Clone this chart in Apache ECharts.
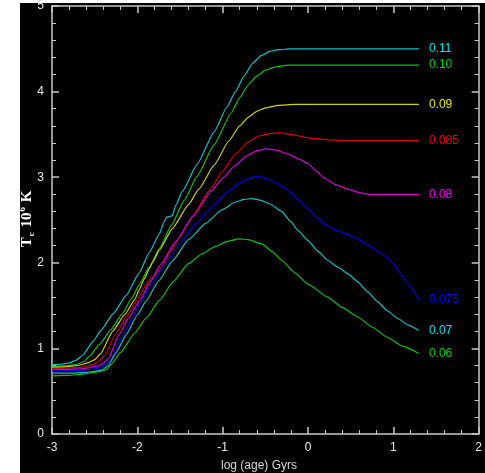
<!DOCTYPE html>
<html><head><meta charset="utf-8">
<script src="https://cdn.jsdelivr.net/npm/echarts@6/dist/echarts.min.js"></script>
<style>html,body{margin:0;padding:0;background:#fff}#c{width:485px;height:473px}</style>
</head><body><div id="c"></div>
<script>
const labels = ['0.11','0.10','0.09','0.085','0.08','0.075','0.07','0.06'];
const lineColors = ['#10c0c8','#10c010','#d0d000','#d00000','#d000d0','#0000e0','#10c0c8','#10c010'];
const labelColors = ['#00e0f0','#00d000','#e8e800','#f00000','#f000f0','#0000ff','#00e0f0','#00d000'];
const xTicks = [-3,-2,-1,0,1,2];
const yTicks = [0,1,2,3,4,5];

const c011 = [[-3,0.81],[-2.9,0.815],[-2.8,0.83],[-2.72,0.86],[-2.64,0.92],[-2.52,1.08],[-2.42,1.22],[-2.28,1.41],[-2.13,1.62],[-1.98,1.88],[-1.86,2.12],[-1.74,2.34],[-1.69,2.47],[-1.66,2.53],[-1.59,2.55],[-1.55,2.67],[-1.47,2.84],[-1.3,3.15],[-1.1,3.53],[-0.95,3.82],[-0.85,4.0],[-0.75,4.18],[-0.65,4.33],[-0.55,4.42],[-0.45,4.47],[-0.35,4.49],[-0.2,4.5],[1.3,4.5]];
const c010 = [[-3,0.79],[-2.85,0.795],[-2.72,0.81],[-2.62,0.85],[-2.56,0.91],[-2.44,1.05],[-2.31,1.22],[-2.18,1.40],[-2.07,1.58],[-1.98,1.74],[-1.86,1.95],[-1.74,2.17],[-1.6,2.44],[-1.45,2.73],[-1.3,3.01],[-1.1,3.38],[-0.9,3.75],[-0.8,3.93],[-0.7,4.08],[-0.6,4.18],[-0.5,4.25],[-0.38,4.29],[-0.23,4.31],[1.3,4.31]];
const c009 = [[-3,0.78],[-2.85,0.785],[-2.7,0.8],[-2.58,0.83],[-2.5,0.87],[-2.43,0.94],[-2.29,1.20],[-2.15,1.39],[-2.03,1.57],[-1.98,1.68],[-1.92,1.81],[-1.86,1.93],[-1.82,2.01],[-1.74,2.15],[-1.59,2.40],[-1.4,2.68],[-1.28,2.86],[-1.1,3.14],[-0.93,3.42],[-0.8,3.60],[-0.7,3.70],[-0.6,3.77],[-0.5,3.81],[-0.35,3.84],[-0.15,3.85],[1.3,3.85]];
const c0085 = [[-3,0.765],[-2.8,0.77],[-2.65,0.78],[-2.52,0.81],[-2.45,0.85],[-2.38,0.92],[-2.25,1.18],[-2.12,1.38],[-2.0,1.57],[-1.9,1.74],[-1.84,1.82],[-1.78,1.87],[-1.72,1.95],[-1.6,2.15],[-1.5,2.31],[-1.35,2.55],[-1.16,2.84],[-1.0,3.07],[-0.85,3.27],[-0.7,3.41],[-0.58,3.48],[-0.45,3.51],[-0.33,3.52],[-0.2,3.5],[0,3.46],[0.2,3.44],[0.38,3.43],[1.3,3.43]];
const c008 = [[-3,0.75],[-2.8,0.755],[-2.62,0.765],[-2.48,0.79],[-2.41,0.82],[-2.34,0.88],[-2.21,1.17],[-2.1,1.36],[-1.97,1.56],[-1.86,1.76],[-1.72,1.99],[-1.55,2.25],[-1.35,2.54],[-1.13,2.84],[-1.0,2.99],[-0.85,3.14],[-0.72,3.25],[-0.6,3.31],[-0.5,3.33],[-0.38,3.32],[-0.23,3.27],[-0.1,3.21],[0,3.16],[0.1,3.07],[0.19,2.99],[0.33,2.91],[0.47,2.86],[0.6,2.82],[0.72,2.80],[1.3,2.80]];
const c0075 = [[-3,0.74],[-2.8,0.74],[-2.6,0.75],[-2.48,0.765],[-2.41,0.79],[-2.33,0.84],[-2.15,1.18],[-2.05,1.37],[-1.96,1.55],[-1.85,1.73],[-1.67,2.0],[-1.5,2.23],[-1.3,2.47],[-1.1,2.68],[-0.93,2.84],[-0.8,2.93],[-0.7,2.98],[-0.6,3.01],[-0.5,2.99],[-0.4,2.95],[-0.3,2.89],[-0.2,2.82],[-0.12,2.74],[0,2.63],[0.1,2.53],[0.23,2.43],[0.35,2.37],[0.47,2.33],[0.58,2.28],[0.7,2.21],[0.81,2.14],[0.9,2.08],[1.0,1.99],[1.08,1.88],[1.16,1.76],[1.3,1.57]];
const c007 = [[-3,0.71],[-2.8,0.71],[-2.6,0.72],[-2.48,0.735],[-2.41,0.75],[-2.34,0.8],[-2.25,0.95],[-2.13,1.16],[-2.0,1.39],[-1.9,1.55],[-1.75,1.79],[-1.59,2.02],[-1.4,2.27],[-1.2,2.46],[-1.01,2.62],[-0.85,2.71],[-0.75,2.74],[-0.66,2.75],[-0.55,2.73],[-0.45,2.69],[-0.31,2.60],[-0.2,2.48],[-0.12,2.38],[0,2.26],[0.12,2.13],[0.23,2.03],[0.35,1.95],[0.47,1.87],[0.58,1.78],[0.7,1.66],[0.81,1.55],[0.93,1.44],[1.05,1.35],[1.18,1.27],[1.3,1.21]];
const c006 = [[-3,0.68],[-2.8,0.685],[-2.64,0.70],[-2.5,0.72],[-2.42,0.735],[-2.37,0.75],[-2.3,0.82],[-2.2,0.95],[-2.03,1.18],[-1.9,1.35],[-1.74,1.56],[-1.58,1.78],[-1.4,1.99],[-1.25,2.10],[-1.09,2.19],[-0.95,2.25],[-0.81,2.28],[-0.7,2.27],[-0.54,2.22],[-0.42,2.13],[-0.31,2.03],[-0.15,1.88],[0,1.75],[0.23,1.60],[0.4,1.48],[0.58,1.37],[0.75,1.25],[0.93,1.13],[1.1,1.03],[1.3,0.94]];
const curves = [c011,c010,c009,c0085,c008,c0075,c007,c006];

const chart = echarts.init(document.getElementById('c'), null, {renderer:'canvas'});
const axisCol = '#c8c8c8';
function mkX(pos, show){
  return {type:'value', min:xTicks[0], max:xTicks[xTicks.length-1], interval:1, position:pos,
    axisLine:{show:true,onZero:false,lineStyle:{color:axisCol,width:1.5}},
    axisTick:{show:true,inside:true,length:7,lineStyle:{color:axisCol,width:1.5}},
    minorTick:{show:true,splitNumber:5,length:4,lineStyle:{color:axisCol,width:1}},
    splitLine:{show:false},
    axisLabel:{show:show,color:'#e8e8e8',fontSize:12,margin:8,fontFamily:'Liberation Sans'}};
}
function mkY(pos, show){
  return {type:'value', min:yTicks[0], max:yTicks[yTicks.length-1], interval:1, position:pos,
    axisLine:{show:true,onZero:false,lineStyle:{color:axisCol,width:1.5}},
    axisTick:{show:true,inside:true,length:7,lineStyle:{color:axisCol,width:1.5}},
    minorTick:{show:true,splitNumber:5,length:4,lineStyle:{color:axisCol,width:1}},
    splitLine:{show:false},
    axisLabel:{show:show,color:'#e8e8e8',fontSize:12,margin:8,fontFamily:'Liberation Sans'}};
}
const series = curves.map((d,i)=>({
  type:'line', name:labels[i], data:d, xAxisIndex:0, yAxisIndex:0,
  showSymbol:false, smooth:0.15, smoothMonotone:'x', animation:false,
  lineStyle:{color:lineColors[i],width:1.2}, itemStyle:{color:lineColors[i]},
  endLabel:{show:true, formatter:labels[i], color:labelColors[i], fontSize:12, distance:10, fontFamily:'Liberation Sans'},
  z:3
}));
chart.setOption({
  backgroundColor:'#ffffff',
  animation:false,
  grid:{left:52,right:3,top:5,bottom:39},
  xAxis:[mkX('bottom',true), mkX('top',false)],
  yAxis:[mkY('left',true), mkY('right',false)],
  graphic:[
    {type:'rect', z:-100, zlevel:0, shape:{x:20,y:3,width:465,height:470}, style:{fill:'#000'}, silent:true},
    {type:'text', x:221, y:460, z:10, style:{text:'log (age) Gyrs', fill:'#d8d8d8', font:'12px "Liberation Sans"'}},
    {type:'text', x:27, y:219, rotation:Math.PI/2, z:10, style:{
      text:'{b|T}{s|c}{b| 10}{p|6}{b| K}', align:'center', verticalAlign:'middle',
      rich:{b:{fontFamily:'Liberation Serif',fontWeight:'bold',fontSize:15,fill:'#ffffff',color:'#ffffff'},
            s:{fontFamily:'Liberation Serif',fontWeight:'bold',fontSize:9,fill:'#ffffff',color:'#ffffff',padding:[9,1,0,1]},
            p:{fontFamily:'Liberation Serif',fontWeight:'bold',fontSize:9,fill:'#ffffff',color:'#ffffff',padding:[0,1,9,1]}}}}
  ],
  series:series
});
</script></body></html>
